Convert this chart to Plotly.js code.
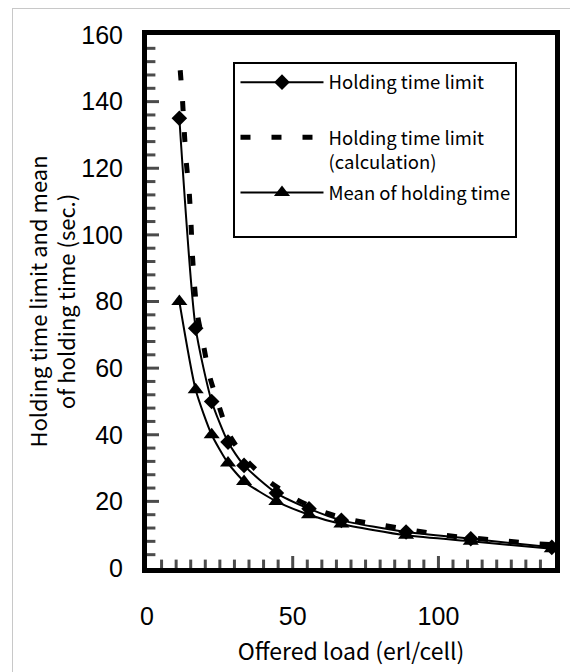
<!DOCTYPE html>
<html><head><meta charset="utf-8">
<script src="https://cdn.plot.ly/plotly-3.0.1.min.js"></script>
<style>
html,body{margin:0;padding:0;background:#fff;}
#frame{position:absolute;left:12px;top:8px;width:600px;height:700px;border:1px solid #c8c8c8;}
#chart{position:absolute;left:0;top:0;width:570px;height:672px;}
</style></head><body>
<div id="frame"></div>
<div id="chart"></div>
<script>
const offeredLoad = [11.1, 16.7, 22.2, 27.8, 33.3, 44.4, 55.6, 66.7, 88.9, 111.1, 138.9];
const holdingLimit = [135, 72, 50, 37.8, 30.8, 22.5, 17.8, 14.3, 10.8, 8.8, 6.2];
const meanHolding = [80, 53.5, 40, 31.5, 26, 20, 16, 13.2, 9.8, 8, 5.8];
// Calculated holding time limit curve (dashed)
const calcLoad = [11.4, 12.2, 12.8, 13.5, 14.5, 15.1, 15.6, 16.3, 17.3, 19.4, 21.4, 24.8, 28, 34.2, 42.2, 50.8, 60.5, 70.8, 81, 102.2, 123.3, 133.6, 139];
const calcLimit = [149.4, 140.2, 130.9, 121.6, 112.6, 103.4, 93.8, 84.8, 76.1, 66.8, 57.8, 48.3, 40.3, 32.3, 25.8, 20.8, 16.8, 14.3, 12.8, 9.8, 8.1, 7.3, 7.0];
// Labels
const seriesNames = ['Holding time limit<br>&nbsp;', 'Holding time limit<br>(calculation)', 'Mean of holding time<br>&nbsp;'];
const xTitle = 'Offered load (erl/cell)';
const yTitle = 'Holding time limit and mean<br>of holding time (sec.)';
// Axis scale settings
const xRange = [0, 140], xMajor = 50, xMinor = 5;
const yRange = [0, 160], yMajor = 20, yMinor = 4;

const W = 570, H = 672;
const M = {l: 147, r: 15, t: 35, b: 104};
const txtFont = 'Noto Sans CJK JP, Noto Sans, sans-serif';
const numFont = 'Liberation Sans, Arial, sans-serif';

// Inside tick marks (major + minor) as short line markers on the chart's own axes
const pxPerX = (W - M.l - M.r) / (xRange[1] - xRange[0]);
const pxPerY = (H - M.t - M.b) / (yRange[1] - yRange[0]);
const tickXpos = [], tickXmid = [], tickXlen = [];
for (let v = xRange[0] + xMinor; v < xRange[1]; v += xMinor) {
  const len = (Math.round(v) % xMajor === 0) ? 10 : 7;
  tickXpos.push(v); tickXmid.push(yRange[0] + len / 2 / pxPerY); tickXlen.push(len);
}
const tickYpos = [], tickYmid = [], tickYlen = [];
for (let v = yRange[0] + yMinor; v < yRange[1]; v += yMinor) {
  const len = (Math.round(v) % yMajor === 0) ? 10 : 7;
  tickYpos.push(v); tickYmid.push(xRange[0] + len / 2 / pxPerX); tickYlen.push(len);
}

const traces = [
  {x: tickXpos, y: tickXmid, type: 'scatter', mode: 'markers',
   marker: {symbol: 'line-ns', size: tickXlen, color: '#000', line: {width: 3, color: '#000'}},
   showlegend: false, hoverinfo: 'skip', cliponaxis: false},
  {x: tickYmid, y: tickYpos, type: 'scatter', mode: 'markers',
   marker: {symbol: 'line-ew', size: tickYlen, color: '#000', line: {width: 3, color: '#000'}},
   showlegend: false, hoverinfo: 'skip', cliponaxis: false},
  {x: offeredLoad, y: holdingLimit, name: seriesNames[0], type: 'scatter', mode: 'lines+markers',
   line: {color: '#000', width: 2, shape: 'spline', smoothing: 0.6},
   marker: {symbol: 'diamond', size: 12, color: '#000'}, cliponaxis: false, legendgroup: 'a'},
  {x: calcLoad, y: calcLimit, name: seriesNames[1], type: 'scatter', mode: 'lines',
   line: {color: '#000', width: 5, dash: '10px,21px', shape: 'spline', smoothing: 0.6},
   cliponaxis: false, legendgroup: 'b'},
  {x: offeredLoad, y: meanHolding, name: seriesNames[2], type: 'scatter', mode: 'lines+markers',
   line: {color: '#000', width: 2, shape: 'spline', smoothing: 0.6},
   marker: {symbol: 'triangle-up', size: 14, color: '#000'}, cliponaxis: false, legendgroup: 'c'}
];

const layout = {
  width: W, height: H,
  margin: M,
  paper_bgcolor: 'rgba(0,0,0,0)', plot_bgcolor: '#fff',
  showlegend: true,
  legend: {x: 0.212, y: 0.95, xanchor: 'left', yanchor: 'top', bgcolor: '#fff',
    bordercolor: '#000', borderwidth: 2, itemwidth: 83, valign: 'top',
    traceorder: 'grouped', tracegroupgap: 4,
    font: {family: txtFont, size: 18.5, color: '#000'}},
  xaxis: {range: xRange, tick0: 0, dtick: xMajor, ticks: '',
    showline: true, linewidth: 5, linecolor: '#000', mirror: true, showgrid: false, zeroline: false,
    tickfont: {family: numFont, size: 25, color: '#000'}, ticklabelstandoff: 22,
    title: {text: xTitle, font: {family: txtFont, size: 23, color: '#000'}, standoff: 16}},
  yaxis: {range: yRange, tick0: 0, dtick: yMajor, ticks: '',
    showline: true, linewidth: 5, linecolor: '#000', mirror: true, showgrid: false, zeroline: false,
    tickfont: {family: numFont, size: 25, color: '#000'}, ticklabelstandoff: 14,
    title: {text: yTitle, font: {family: txtFont, size: 22, color: '#000'}, standoff: 0}}
};

Plotly.newPlot('chart', traces, layout, {displayModeBar: false, staticPlot: true});
</script>
</body></html>
